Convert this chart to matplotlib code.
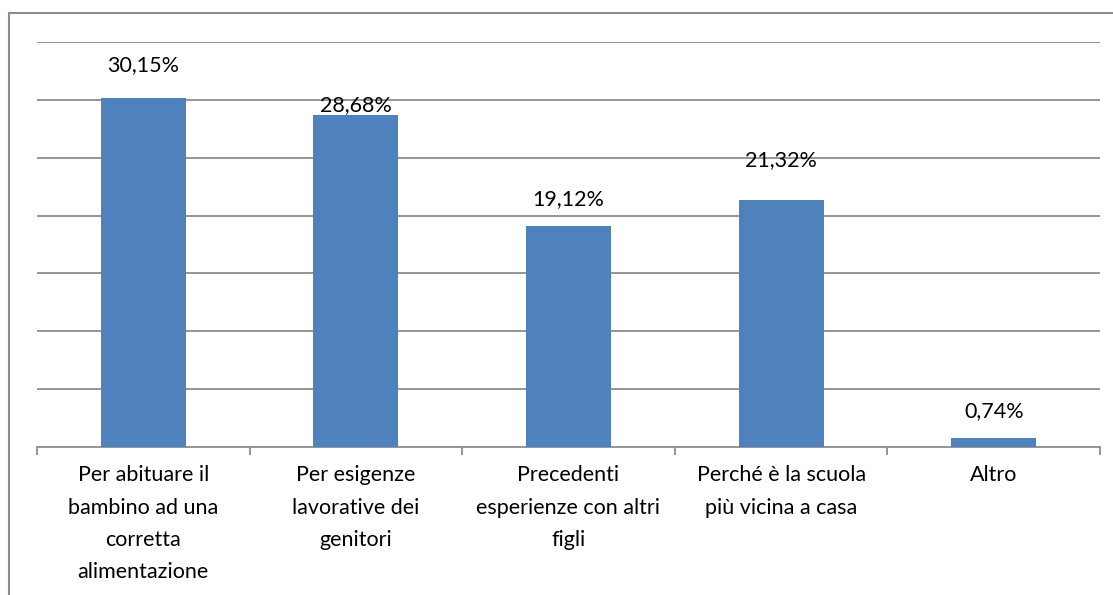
import matplotlib.pyplot as plt
from matplotlib.patches import Rectangle
import numpy as np

categories = [
    'Per abituare il\nbambino ad una\ncorretta\nalimentazione',
    'Per esigenze\nlavorative dei\ngenitori',
    'Precedenti\nesperienze con altri\nfigli',
    'Perché è la scuola\npiù vicina a casa',
    'Altro',
]
values = [30.15, 28.68, 19.12, 21.32, 0.74]
value_labels = ['30,15%', '28,68%', '19,12%', '21,32%', '0,74%']
# label offsets above bar top (points), as placed in the original
label_offsets = [24, 7, 19, 29, 20]

plt.rcParams['font.family'] = ['Lato', 'DejaVu Sans']

fig = plt.figure(figsize=(11.13, 5.95), dpi=100)
ax = fig.add_axes([37 / 1113, 1 - 447 / 595, (1100 - 37) / 1113, (447 - 42) / 595])

# outer frame (cut off at the right and bottom)
fig.patches.append(Rectangle((9 / 1113, -0.1), 1.2, 1 - 13 / 595 + 0.1,
                             transform=fig.transFigure, fill=False,
                             edgecolor='#8c8c8c', linewidth=1.5))

x = np.arange(len(values))
ax.bar(x, values, width=0.4, color='#4f81bd', zorder=3)

for xi, v, lab, off in zip(x, values, value_labels, label_offsets):
    ax.annotate(lab, (xi, v), xytext=(0, off), textcoords='offset points',
                ha='center', va='center', fontsize=15.5, color='#000000')

ax.set_xlim(-0.5, len(values) - 0.5)
ax.set_ylim(0, 35)
ax.set_yticks(np.arange(5, 36, 5))
ax.yaxis.grid(True, color='#8c8c8c', linewidth=1.3, zorder=0)
ax.tick_params(axis='y', left=False, labelleft=False)

for s in ['top', 'left', 'right']:
    ax.spines[s].set_visible(False)
ax.spines['bottom'].set_color('#8c8c8c')
ax.spines['bottom'].set_linewidth(1.3)

ax.set_xticks(np.arange(-0.5, len(values), 1.0))
ax.set_xticklabels([])
ax.tick_params(axis='x', which='major', length=6, width=1.3, color='#8c8c8c')
ax.set_xticks(x, minor=True)
ax.set_xticklabels(categories, minor=True, fontsize=15.5, linespacing=1.78)
ax.tick_params(axis='x', which='minor', length=0, pad=13)
for t in ax.get_xticklabels(minor=True):
    t.set_horizontalalignment('center')
    t.set_verticalalignment('top')
    t.set_multialignment('center')

fig.savefig('out.png', dpi=100)
